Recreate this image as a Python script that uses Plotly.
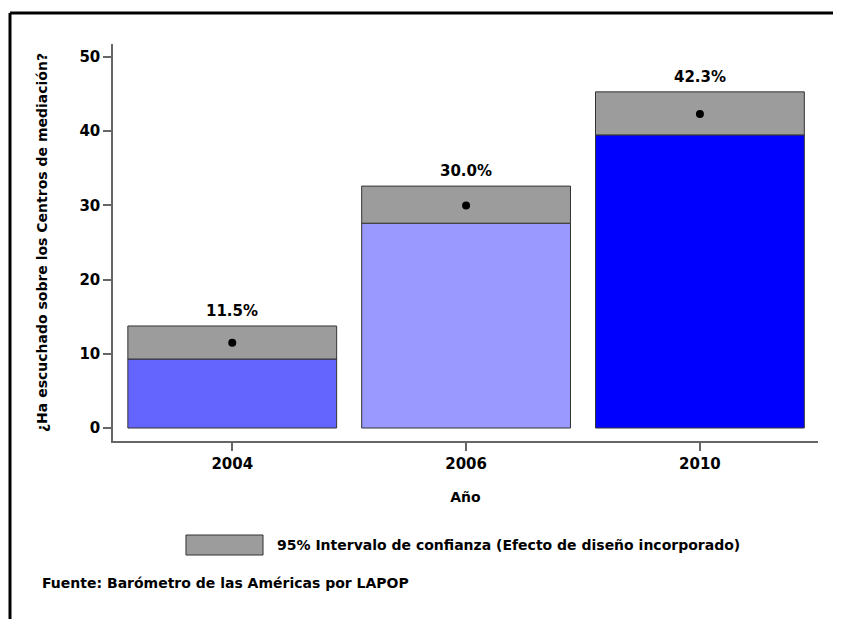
import plotly.graph_objects as go

# Data
years = ["2004", "2006", "2010"]
means = [11.5, 30.0, 42.3]
ci_low = [9.3, 27.6, 39.5]
ci_high = [13.75, 32.6, 45.3]
bar_colors = ["#6464FF", "#9999FF", "#0000FF"]

FONT = "DejaVu Sans"
AXIS_GRAY = "#666666"

fig = go.Figure()

# Coloured bar up to the lower bound of the CI
fig.add_trace(go.Bar(
    x=years, y=ci_low,
    marker=dict(color=bar_colors, line=dict(color="#333333", width=1)),
    width=0.893, showlegend=False, hoverinfo="skip",
))

# Grey band = 95% confidence interval
fig.add_trace(go.Bar(
    x=years, y=[h - l for h, l in zip(ci_high, ci_low)], base=ci_low,
    marker=dict(color="#9C9C9C", line=dict(color="#333333", width=1)),
    width=0.893, showlegend=False, hoverinfo="skip",
))

# Point estimate
fig.add_trace(go.Scatter(
    x=years, y=means, mode="markers",
    marker=dict(color="black", size=8), showlegend=False,
))

# page body has an 8px margin, so the plot area is nudged up/left by 8px
fig.update_layout(
    barmode="overlay",
    width=841, height=619,
    margin=dict(l=105, r=31, t=36, b=186),
    plot_bgcolor="white",
    paper_bgcolor="white",
    font=dict(family=FONT, size=14, color="black"),
)

fig.update_xaxes(
    type="category",
    range=[-0.51, 2.505],
    showline=True, linecolor=AXIS_GRAY, linewidth=1.5,
    ticks="outside", ticklen=8, tickcolor=AXIS_GRAY, tickwidth=1.5,
    tickfont=dict(family=FONT, size=15, weight="bold"),
    showgrid=False, zeroline=False,
    title=dict(text="<b>Año</b>", font=dict(size=14), standoff=20),
)

fig.update_yaxes(
    range=[-1.75, 51.75],
    tickvals=[0, 10, 20, 30, 40, 50],
    showline=True, linecolor=AXIS_GRAY, linewidth=1.5,
    ticks="outside", ticklen=8, tickcolor=AXIS_GRAY, tickwidth=1.5,
    tickfont=dict(family=FONT, size=15, weight="bold"),
    showgrid=False, zeroline=False,
    title=dict(text="<b>¿Ha escuchado sobre los Centros de mediación?</b>",
               font=dict(size=14), standoff=28),
)

# Percentage labels above each CI box (category index as x position)
for i, (m, hi) in enumerate(zip(means, ci_high)):
    fig.add_annotation(
        x=i, y=hi, text=f"<b>{m:.1f}%</b>", showarrow=False,
        yanchor="middle", yshift=15, font=dict(family=FONT, size=15),
    )

# Frame lines (top and left) around the figure
fig.add_shape(type="line", xref="paper", yref="paper",
              x0=-0.1461, x1=1.1, y0=1.078, y1=1.078,
              line=dict(color="black", width=3))
fig.add_shape(type="line", xref="paper", yref="paper",
              x0=-0.1461, x1=-0.1461, y0=1.078, y1=-0.5,
              line=dict(color="black", width=3))

# Legend key for the CI box
fig.add_shape(type="rect", xref="paper", yref="paper",
              x0=0.1035, x1=0.2128, y0=-0.2872, y1=-0.2368,
              fillcolor="#9C9C9C", line=dict(color="#333333", width=1))
fig.add_annotation(
    xref="paper", yref="paper", x=0.2298, y=-0.262,
    text="<b>95% Intervalo de confianza (Efecto de diseño incorporado)</b>",
    showarrow=False, xanchor="left", yanchor="middle",
    font=dict(family=FONT, size=14),
)

fig.add_annotation(
    xref="paper", yref="paper", x=-0.1035, y=-0.3577,
    text="<b>Fuente: Barómetro de las Américas por LAPOP</b>",
    showarrow=False, xanchor="left", yanchor="middle",
    font=dict(family=FONT, size=14),
)

fig.write_html("out.html")
